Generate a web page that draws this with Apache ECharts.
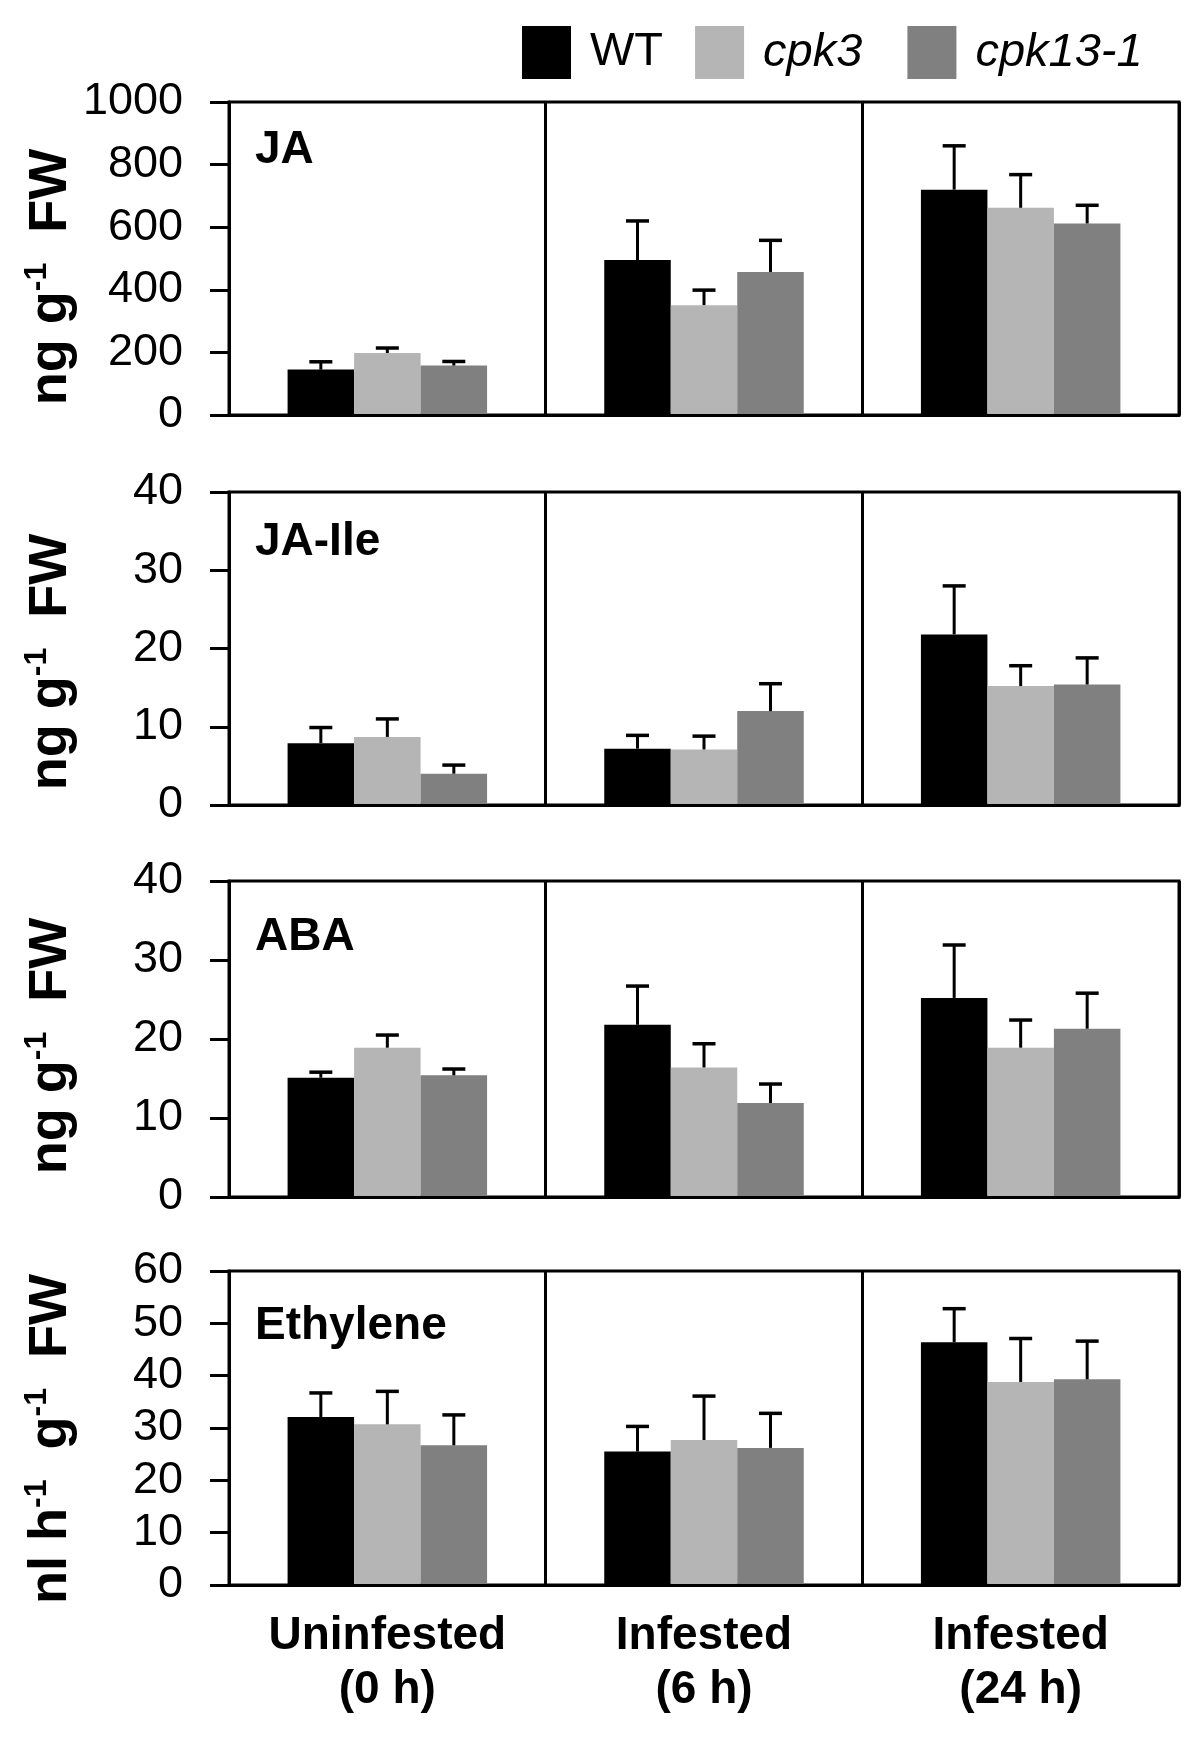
<!DOCTYPE html>
<html>
<head>
<meta charset="utf-8">
<script src="https://cdn.jsdelivr.net/npm/echarts@6/dist/echarts.min.js"></script>
<style>html,body{margin:0;padding:0;background:#fff}#c{width:1200px;height:1740px}</style>
</head>
<body>
<div id="c"></div>
<script>
// ---- data ----
const categories = ['Uninfested\n(0 h)', 'Infested\n(6 h)', 'Infested\n(24 h)'];
const genotypes = ['WT', 'cpk3', 'cpk13-1'];
const colors = ['#000000', '#b5b5b5', '#808080'];

// rows: WT, cpk3, cpk13-1 ; columns: categories
const jaMean = [[145, 495, 720], [198, 351, 662], [158, 457, 612]];
const jaErr  = [[25, 125, 140], [16, 48, 106], [13, 101, 58]];
const jaTicks = [0, 200, 400, 600, 800, 1000];

const jaIleMean = [[7.9, 7.2, 21.8], [8.7, 7.1, 15.2], [4.0, 12.0, 15.4]];
const jaIleErr  = [[2.0, 1.7, 6.2], [2.3, 1.7, 2.6], [1.1, 3.5, 3.4]];
const jaIleTicks = [0, 10, 20, 30, 40];

const abaMean = [[15.1, 21.8, 25.2], [18.9, 16.4, 18.9], [15.4, 11.9, 21.3]];
const abaErr  = [[0.7, 4.9, 6.7], [1.6, 3.0, 3.5], [0.8, 2.4, 4.5]];
const abaTicks = [0, 10, 20, 30, 40];

const ethMean = [[32.1, 25.5, 46.4], [30.7, 27.7, 38.8], [26.7, 26.2, 39.3]];
const ethErr  = [[4.6, 4.8, 6.4], [6.3, 8.4, 8.3], [5.8, 6.6, 7.3]];
const ethTicks = [0, 10, 20, 30, 40, 50, 60];

const panelNames = ['JA', 'JA-Ile', 'ABA', 'Ethylene'];

// ---- layout / style ----
const FONT = 'Liberation Sans, Arial, sans-serif';
const panels = [
  {mean: jaMean, err: jaErr, ticks: jaTicks, top: 102, height: 313, labelY: 152, titleY: 277, unit: 'ng'},
  {mean: jaIleMean, err: jaIleErr, ticks: jaIleTicks, top: 492, height: 313, labelY: 544, titleY: 662, unit: 'ng'},
  {mean: abaMean, err: abaErr, ticks: abaTicks, top: 881, height: 316, labelY: 939, titleY: 1046, unit: 'ng'},
  {mean: ethMean, err: ethErr, ticks: ethTicks, top: 1271, height: 314, labelY: 1328, titleY: 1439, unit: 'nl'}
];

const grid = [], xAxis = [], yAxis = [], series = [], graphic = [];
const GAP = 0.37;
const barFrac = (1 - GAP) / 3;

panels.forEach((p, gi) => {
  grid.push({left: 229, right: 21, top: p.top, height: p.height, show: true,
    borderColor: '#000', borderWidth: 3, backgroundColor: 'transparent'});
  const last = gi === panels.length - 1;
  xAxis.push({
    type: 'category', gridIndex: gi, data: categories, z: 5,
    axisLine: {show: true, lineStyle: {color: '#000', width: 3}},
    axisTick: {show: false},
    splitLine: {show: true, interval: 0, lineStyle: {color: '#000', width: 3}},
    axisLabel: {show: last, interval: 0, margin: 24, color: '#000', fontFamily: FONT,
      fontSize: 46, fontWeight: 'bold', lineHeight: 54}
  });
  const t = p.ticks;
  yAxis.push({
    type: 'value', gridIndex: gi, min: t[0], max: t[t.length - 1], interval: t[1] - t[0], z: 5,
    axisLine: {show: true, lineStyle: {color: '#000', width: 3}},
    axisTick: {show: true, length: 19, lineStyle: {color: '#000', width: 3}},
    splitLine: {show: false},
    axisLabel: {margin: 46, color: '#000', fontFamily: FONT, fontSize: 45,
      formatter: v => String(v)}
  });
  genotypes.forEach((g, si) => {
    series.push({
      type: 'bar', name: g, xAxisIndex: gi, yAxisIndex: gi,
      data: p.mean[si], barGap: '0%', barCategoryGap: (GAP * 100) + '%',
      itemStyle: {color: colors[si]}, z: 2, animation: false
    });
  });
  genotypes.forEach((g, si) => {
    series.push({
      type: 'custom', xAxisIndex: gi, yAxisIndex: gi, z: 4, animation: false,
      data: p.mean[si].map((m, ci) => [ci, m, p.err[si][ci]]),
      encode: {x: 0, y: 1},
      renderItem: function (params, api) {
        const x = api.value(0), m = api.value(1), e = api.value(2);
        const base = api.coord([x, m]);
        const top = api.coord([x, m + e]);
        const bw = api.size([1, 0])[0];
        const cx = base[0] + (si - 1) * bw * barFrac;
        const half = 11.5;
        return {type: 'group', children: [
          {type: 'line', shape: {x1: cx, y1: base[1], x2: cx, y2: top[1]}, style: {stroke: '#000', lineWidth: 3}},
          {type: 'line', shape: {x1: cx - half, y1: top[1], x2: cx + half, y2: top[1]}, style: {stroke: '#000', lineWidth: 3.5}}
        ]};
      }
    });
  });
  graphic.push({type: 'text', left: 255, top: p.labelY - 25, z: 10,
    style: {text: panelNames[gi], font: 'bold 46px ' + FONT, fill: '#000'}});
  const titleText = p.unit === 'nl'
    ? '{b|nl h}{s|-1}{b|  g}{s|-1}{b|  FW}'
    : '{b|ng g}{s|-1}{b|  FW}';
  graphic.push({type: 'text', x: 51, y: p.titleY, rotation: Math.PI / 2, z: 10,
    style: {text: titleText, align: 'center', verticalAlign: 'middle', fill: '#000',
      rich: {
        b: {fontFamily: FONT, fontWeight: 'bold', fontSize: 54, lineHeight: 60, fill: '#000'},
        s: {fontFamily: FONT, fontWeight: 'bold', fontSize: 32, lineHeight: 60, verticalAlign: 'top', fill: '#000'}
      }}});
});

const option = {
  animation: false,
  backgroundColor: '#fff',
  textStyle: {fontFamily: FONT, color: '#000'},
  legend: {
    left: 517, top: 21, itemWidth: 49, itemHeight: 53, itemGap: 32, icon: 'rect',
    formatter: n => (n === 'cpk3' ? n + ' ' : n),
    textStyle: {fontFamily: FONT, fontSize: 47, color: '#000', padding: [0, 0, 0, 14]},
    data: [
      {name: 'WT'},
      {name: 'cpk3', textStyle: {fontStyle: 'italic'}},
      {name: 'cpk13-1', textStyle: {fontStyle: 'italic'}}
    ]
  },
  grid, xAxis, yAxis, series, graphic
};

const chart = echarts.init(document.getElementById('c'), null, {renderer: 'canvas'});
chart.setOption(option);
</script>
</body>
</html>
